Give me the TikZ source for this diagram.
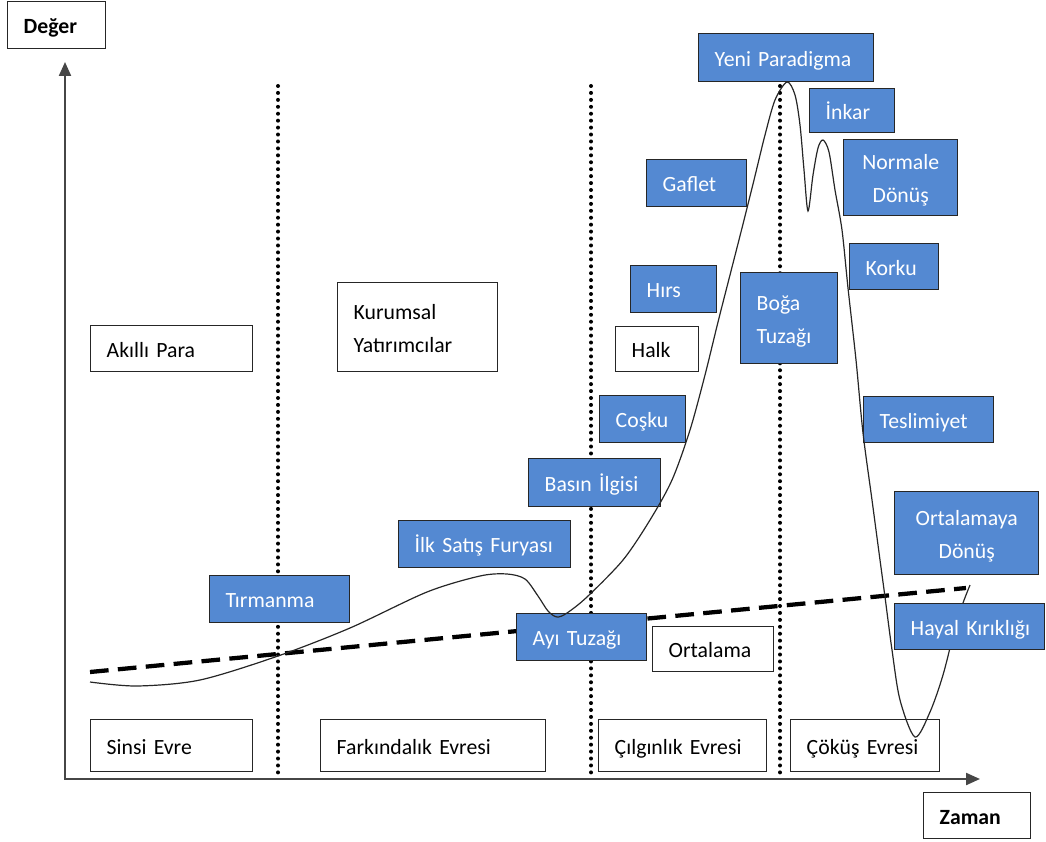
\documentclass[tikz,border=0pt]{standalone}
\usepackage{fontspec}
\setmainfont{Carlito}
\usetikzlibrary{arrows.meta}
\definecolor{boxblue}{RGB}{84,137,210}
\definecolor{axisgray}{RGB}{70,70,70}
\newcommand\fs{\fontsize{16.3}{24.75}\selectfont}
\newcommand\bxstrut{\rule[-5.4pt]{0pt}{23.4pt}}
\newcommand\bx[7]{%
  \pgfmathsetmacro\bxw{(#4-#2)*0.75}%
  \pgfmathsetmacro\bxh{(#5-#3)*0.75}%
  \pgfmathsetmacro\bxt{(#4-#2)*0.75-24}%
  \node[#6, anchor=north west, minimum width=\bxw pt, minimum height=\bxh pt, text width=\bxt pt] (#1) at (#2,#3) {#7};}
\tikzset{
  basebox/.style={draw=black!85, line width=1.1pt, inner xsep=12pt, inner ysep=0pt, font=\fs,
    execute at begin node=\bxstrut, execute at end node=\bxstrut},
  bluebox/.style={basebox, fill=boxblue, text=white, align=left},
  blueboxc/.style={basebox, fill=boxblue, text=white, align=center},
  whitebox/.style={basebox, fill=white, text=black, align=left},
  labelbox/.style={basebox, fill=white, text=black, align=left, font=\fs\bfseries},
  axisline/.style={draw=axisgray, line width=1.6pt},
  phaseline/.style={line width=3pt, line cap=round, dash pattern=on 0pt off 5.2pt},
  trendline/.style={line width=3.2pt, dash pattern=on 14pt off 7pt},
  cycle/.style={line width=0.9pt, black!85}
}
\begin{document}
\begin{tikzpicture}[x=0.75pt, y=-0.75pt]
\useasboundingbox (0,0) rectangle (1046,842);
% axes
\coordinate (O) at (65,779);
\coordinate (ytip) at (65,62);
\coordinate (xtip) at (980,779);
\draw[axisline, {Triangle[length=10.5pt,width=9pt]}-{Triangle[length=10.5pt,width=9pt]}] (ytip) -- (O) -- (xtip);
% phase separators
\foreach \n/\xx in {d1/278, d2/591, d3/780}{
  \coordinate (\n t) at (\xx,86);
  \coordinate (\n b) at (\xx,779);
  \draw[phaseline] (\n t) -- (\n b);
}
% mean trend line
\coordinate (m1) at (90,672);
\coordinate (m2) at (966,588);
\draw[trendline] (m1) -- (m2);
% labels
\bx{deger}{7}{1}{105}{48}{labelbox}{Değer}
\bx{zaman}{923}{792}{1030}{838}{labelbox}{Zaman}
% phase boxes
\bx{sinsi}{90}{719}{252}{771}{whitebox}{Sinsi Evre}
\bx{fark}{320}{719}{545}{771}{whitebox}{Farkındalık Evresi}
\bx{cilg}{598}{719}{766}{771}{whitebox}{Çılgınlık Evresi}
\bx{cokus}{790}{719}{939}{771}{whitebox}{Çöküş Evresi}
% actor boxes
\bx{akilli}{90}{325}{252}{371}{whitebox}{Akıllı Para}
\bx{kurum}{337}{282}{497}{371}{whitebox}{Kurumsal\\Yatırımcılar}
\bx{halk}{615}{326}{698}{371}{whitebox}{Halk}
\bx{ortalama}{652}{626}{773}{671}{whitebox}{Ortalama}
% stage boxes
\bx{tirmanma}{209}{575}{349}{622}{bluebox}{Tırmanma}
\bx{ilk}{398}{520}{570}{567}{bluebox}{\mbox{İlk Satış Furyası}}
\bx{ayi}{516}{613}{646}{660}{bluebox}{Ayı Tuzağı}
\bx{basin}{528}{458}{660}{506}{bluebox}{Basın İlgisi}
\bx{cosku}{599}{395}{685}{442}{bluebox}{Coşku}
\bx{hirs}{630}{265}{716}{312}{bluebox}{Hırs}
\bx{gaflet}{646}{159}{746}{206}{bluebox}{Gaflet}
\bx{boga}{740}{272}{837}{363}{bluebox}{Boğa\\Tuzağı}
\bx{yeni}{698}{33}{873}{81}{bluebox}{Yeni Paradigma}
\bx{inkar}{809}{88}{894}{132}{bluebox}{İnkar}
\bx{normale}{843}{139}{957}{215}{blueboxc}{Normale\\Dönüş}
\bx{korku}{849}{243}{938}{289}{bluebox}{Korku}
\bx{teslim}{863}{396}{993}{442}{bluebox}{Teslimiyet}
\bx{ortdon}{894}{491}{1038}{574}{blueboxc}{Ortalamaya\\Dönüş}
% bubble curve
\draw[cycle] plot[smooth, tension=0.5] coordinates {
 (90,682) (137,686) (200,680) (278,656) (350,628) (427,592) (480,576) (507,574)
 (525,579) (538,596) (548,611) (557,617) (567,613) (587,597) (623,560)
 (650,520) (672,480) (690,430) (705,375) (718,322) (730,275) (742,228) (754,180)
 (765,135) (775,100) (787,82) (795,95) (800,125) (804,170) (808,211) (813,175) (818,148) (823,140)
 (829,152) (835,190) (842,230) (848,288) (856,360) (863,433) (872,500) (880,560)
 (885,597) (892,650) (900,700) (915,737) (930,712) (943,675) (955,628) (963,603) (970,585)};
\bx{hayal}{894}{603}{1044}{649}{bluebox}{\mbox{Hayal Kırıklığı}}
\end{tikzpicture}
\end{document}
